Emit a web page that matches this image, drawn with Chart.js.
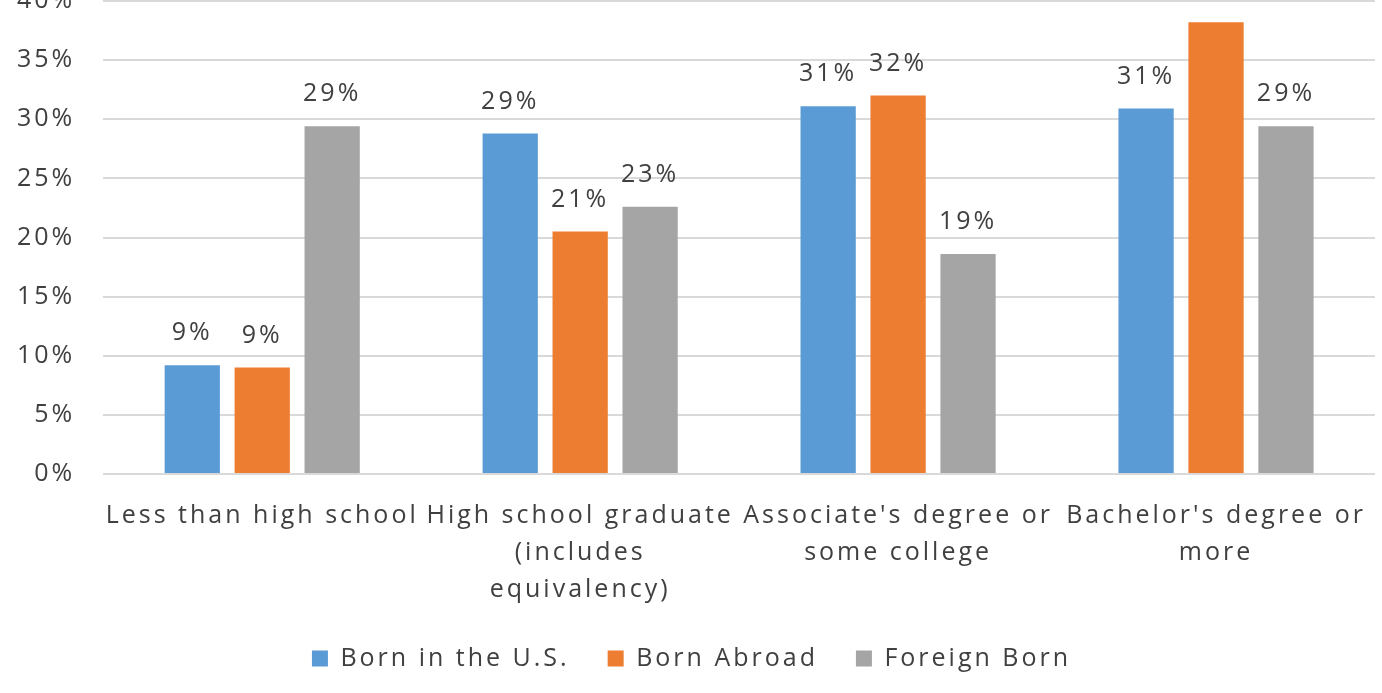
<!DOCTYPE html>
<html lang="en">
  <head>
    <meta charset="UTF-8" />
    <meta name="viewport" content="width=device-width, initial-scale=1.0" />
    <title>Education by birthplace</title>
    <style>
      html, body { margin: 0; padding: 0; background: #fff; }
      /* the original is cropped at the top, so the canvas is pushed up a bit */
      #frame { width: 1382px; height: 693px; overflow: hidden; position: relative; }
      #chart { position: absolute; left: 0; top: -42px; }
    </style>
  </head>
  <body>
    <div id="frame"><canvas id="chart" width="1382" height="735"></canvas></div>

    <script src="https://cdn.jsdelivr.net/npm/chart.js@4.4.0/dist/chart.umd.min.js"></script>
    <script>
      // categories, split into lines like the original
      const categories = [
        ["Less than high school"],
        ["High school graduate", "(includes", "equivalency)"],
        ["Associate's degree or", "some college"],
        ["Bachelor's degree or", "more"],
      ];

      // values in percent
      const bornUS = [9.2, 28.8, 31.1, 30.9];
      const bornAbroad = [9.0, 20.5, 32.0, 38.2];
      const foreignBorn = [29.4, 22.6, 18.6, 29.4];

      const seriesNames = ["Born in the U.S.", "Born Abroad", "Foreign Born"];
      const seriesColors = ["#5B9BD5", "#ED7D31", "#A5A5A5"];

      // y axis ticks
      const yMin = 0;
      const yMax = 40;
      const yStep = 5;

      const textColor = "#404040";
      const fontFamily = "'Open Sans', sans-serif";
      const spacing = "3px";

      // wide letter spacing, like the stretched text of the original
      const wideText = {
        id: "wideText",
        beforeUpdate(chart) { chart.ctx.letterSpacing = spacing; },
        beforeDraw(chart) { chart.ctx.letterSpacing = spacing; },
      };

      // value labels above the bars, skipped when they fall off the plot
      const barLabels = {
        id: "barLabels",
        afterDatasetsDraw(chart) {
          const ctx = chart.ctx;
          const area = chart.chartArea;
          ctx.save();
          ctx.font = "25px " + fontFamily;
          ctx.fillStyle = textColor;
          ctx.textAlign = "center";
          ctx.textBaseline = "middle";
          chart.data.datasets.forEach((ds, i) => {
            chart.getDatasetMeta(i).data.forEach((bar, j) => {
              const y = bar.y - 32;
              if (y - 10 < area.top) return;
              ctx.fillText(Math.round(ds.data[j]) + "%", bar.x, y);
            });
          });
          ctx.restore();
        },
      };

      const chartData = {
        labels: categories,
        datasets: [bornUS, bornAbroad, foreignBorn].map((d, i) => ({
          label: seriesNames[i],
          data: d,
          backgroundColor: seriesColors[i],
          barPercentage: 0.79,
          categoryPercentage: 0.66,
        })),
      };

      const config = {
        type: "bar",
        data: chartData,
        plugins: [wideText, barLabels],
        options: {
          responsive: false,
          animation: false,
          layout: { padding: { left: 8, right: 7, top: 0, bottom: 12 } },
          plugins: {
            tooltip: { enabled: false },
            legend: {
              position: "bottom",
              labels: {
                color: textColor,
                font: { family: fontFamily, size: 25 },
                boxWidth: 16,
                boxHeight: 16,
                padding: 38,
              },
            },
          },
          scales: {
            x: {
              grid: { display: false, drawTicks: false },
              border: { display: false },
              afterFit: (s) => {
                s.height -= s.options.ticks.padding;
                s.paddingLeft = 0;
                s.paddingRight = 0;
              },
              ticks: {
                color: textColor,
                font: { family: fontFamily, size: 25, lineHeight: 1.48 },
                autoSkip: false,
                maxRotation: 0,
                padding: 23,
              },
            },
            y: {
              min: yMin,
              max: yMax,
              grid: { color: "#D9D9D9", lineWidth: 2, drawTicks: false },
              border: { display: false },
              afterFit: (s) => { s.width -= 19; },
              ticks: {
                stepSize: yStep,
                color: textColor,
                font: { family: fontFamily, size: 25 },
                padding: 28,
                callback: (v) => v + "%",
              },
            },
          },
        },
      };

      const chart = new Chart(document.getElementById("chart"), config);
    </script>
  </body>
</html>
